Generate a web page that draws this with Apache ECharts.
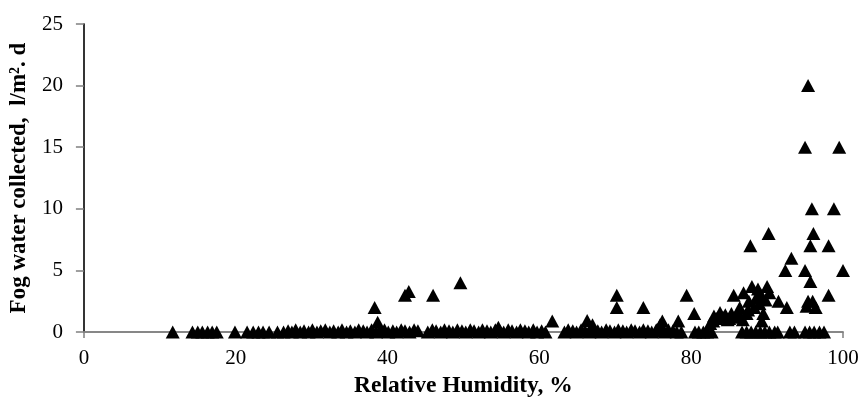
<!DOCTYPE html>
<html>
<head>
<meta charset="utf-8">
<script src="https://cdn.jsdelivr.net/npm/echarts@6/dist/echarts.min.js"></script>
<style>
html,body{margin:0;padding:0;background:#fff;}
#chart{width:862px;height:403px;}
</style>
</head>
<body>
<div id="chart"></div>
<script>
// Near-zero daily observations: relative humidity (%) and fog water (l/m2.d)
var rhLow = [11.7, 14.3, 15.0, 15.6, 16.3, 16.9, 17.5, 19.9, 21.5, 22.3, 23.0, 23.6, 24.4, 25.5,
  26.3, 26.9, 27.4, 27.9, 28.5, 29.0, 29.6, 30.1, 30.7, 31.2, 31.8, 32.4, 32.9, 33.5, 34.0, 34.6,
  35.1, 35.7, 36.2, 36.8, 37.3, 37.9, 38.5, 39.0, 39.6, 40.1, 40.7, 41.2, 41.8, 42.3, 42.9, 43.5,
  44.0, 45.3, 45.9, 46.4, 47.0, 47.5, 48.1, 48.6, 49.2, 49.8, 50.3, 50.9, 51.4, 52.0, 52.5, 53.1,
  53.6, 54.2, 54.8, 55.3, 55.9, 56.4, 57.0, 57.5, 58.1, 58.6, 59.2, 59.7, 60.3, 60.8,
  63.3, 63.8, 64.4, 64.9, 65.5, 66.0, 66.6, 67.1, 67.7, 68.2, 68.8, 69.3, 69.9, 70.4, 71.0, 71.5,
  72.1, 72.6, 73.2, 73.7, 74.3, 74.8, 75.4, 75.9, 76.5, 77.0, 77.6, 78.1, 78.7,
  80.5, 81.0, 81.6, 82.1, 82.7, 86.7, 87.3, 87.9, 88.5, 89.1, 89.7, 90.3, 91.0, 91.4,
  93.0, 93.6, 95.0, 95.6, 96.2, 96.9, 97.5];
var fogLow = [0, 0, 0, 0, 0, 0, 0, 0, 0, 0, 0, 0, 0, 0,
  0, 0.1, 0, 0.2, 0, 0.1, 0, 0.2, 0, 0.1, 0.2, 0, 0.1, 0, 0.2, 0,
  0.1, 0, 0.2, 0.1, 0, 0.2, 0, 0.1, 0.2, 0, 0.1, 0, 0.2, 0.1, 0, 0.2,
  0.1, 0, 0.2, 0.1, 0, 0.2, 0.1, 0, 0.2, 0.1, 0, 0.2, 0.1, 0, 0.2, 0.1,
  0, 0.2, 0.1, 0, 0.2, 0.1, 0, 0.2, 0.1, 0, 0.2, 0, 0.1, 0,
  0, 0.2, 0.1, 0, 0.2, 0.1, 0, 0.2, 0.1, 0, 0.2, 0.1, 0, 0.2, 0.1, 0,
  0.2, 0.1, 0, 0.2, 0.1, 0, 0.2, 0.1, 0, 0.2, 0.1, 0, 0,
  0, 0, 0, 0, 0, 0, 0, 0, 0, 0, 0, 0, 0, 0,
  0, 0, 0, 0, 0, 0, 0];
// Days with noticeable collection
var rhHigh = [38.3, 38.7, 42.3, 42.8, 46.0, 49.6, 54.6, 61.7, 66.3, 67.0, 70.2, 70.2, 73.7, 75.9,
  76.2, 78.3, 79.4, 80.4, 82.5, 82.9, 83.0, 83.3, 83.8, 84.2, 84.5, 84.8, 85.0, 85.3, 85.6, 85.8,
  86.2, 86.4, 86.8, 86.9, 87.3, 87.5, 87.6, 87.8, 88.0, 88.3, 88.6, 88.8, 89.0, 89.2, 89.3, 89.5,
  89.8, 90.0, 90.2, 90.3, 91.5, 92.4, 92.6, 93.2, 95.0, 95.0, 95.2, 95.4,
  95.4, 95.7, 95.7, 95.9, 96.0, 96.1, 96.4, 98.1, 98.1, 98.8, 99.5, 100.0];
var fogHigh = [2.0, 0.8, 3.0, 3.3, 3.0, 4.0, 0.4, 0.9, 0.95, 0.6, 3.0, 2.0, 2.0, 0.6,
  0.9, 0.9, 3.0, 1.5, 0.7, 0.9, 1.3, 1.1, 1.6, 1.2, 1.4, 1.0, 1.1, 1.5, 3.0, 1.2,
  1.5, 2.0, 1.0, 3.2, 1.5, 1.8, 2.5, 7.0, 3.7, 2.0, 2.8, 3.5, 2.3, 3.0, 0.9, 1.5,
  2.6, 3.7, 8.0, 3.2, 2.5, 5.0, 2.0, 6.0, 5.0, 15.0, 2.1, 20.0,
  2.5, 4.1, 7.0, 10.0, 2.5, 8.0, 2.0, 7.0, 3.0, 10.0, 15.0, 5.0];
var xTicks = [0, 20, 40, 60, 80, 100];
var yTicks = [0, 5, 10, 15, 20, 25];

function pairs(xs, ys) {
  var out = [];
  for (var i = 0; i < xs.length; i++) out.push([xs[i], ys[i]]);
  return out;
}

var serif = '"Liberation Serif", "Times New Roman", serif';
var chart = echarts.init(document.getElementById('chart'));
var markerStyle = {
  type: 'scatter', symbol: 'triangle', symbolSize: [14, 13],
  itemStyle: { color: '#000', opacity: 1 }, clip: false, silent: true
};
chart.setOption({
  animation: false,
  backgroundColor: '#fff',
  grid: { left: 83, right: 19, top: 24, bottom: 61, containLabel: false },
  xAxis: [{
    type: 'value', min: xTicks[0], max: xTicks[xTicks.length - 1], interval: 20,
    name: 'Relative Humidity, %', nameLocation: 'middle', nameGap: 38,
    nameTextStyle: { fontFamily: serif, fontWeight: 'bold', fontSize: 23.5, color: '#000' },
    axisLine: { show: true, lineStyle: { color: '#808080', width: 1.5 } },
    axisTick: { show: true, length: 6, lineStyle: { color: '#808080', width: 1.5 } },
    axisLabel: { fontFamily: serif, fontSize: 21, color: '#000', margin: 16 },
    splitLine: { show: false }
  }, {
    type: 'value', position: 'top', min: 0, max: 100,
    axisLine: { show: true, lineStyle: { color: '#808080', width: 1.5 } },
    axisTick: { show: false }, axisLabel: { show: false }, splitLine: { show: false }
  }],
  yAxis: [{
    type: 'value', min: yTicks[0], max: yTicks[yTicks.length - 1], interval: 5,
    name: 'Fog water collected,  l/m². d', nameLocation: 'middle', nameGap: 52,
    nameTextStyle: { fontFamily: serif, fontWeight: 'bold', fontSize: 23, color: '#000' },
    axisLine: { show: true, lineStyle: { color: '#808080', width: 1.5 } },
    axisTick: { show: true, length: 8, lineStyle: { color: '#808080', width: 1.5 } },
    axisLabel: { fontFamily: serif, fontSize: 21, color: '#000', margin: 21 },
    splitLine: { show: false }
  }, {
    type: 'value', position: 'right', min: 0, max: 25,
    axisLine: { show: true, lineStyle: { color: '#111', width: 1.5 } },
    axisTick: { show: false }, axisLabel: { show: false }, splitLine: { show: false }
  }],
  series: [
    Object.assign({ data: pairs(rhLow, fogLow) }, markerStyle),
    Object.assign({ data: pairs(rhHigh, fogHigh) }, markerStyle)
  ]
});
</script>
</body>
</html>
